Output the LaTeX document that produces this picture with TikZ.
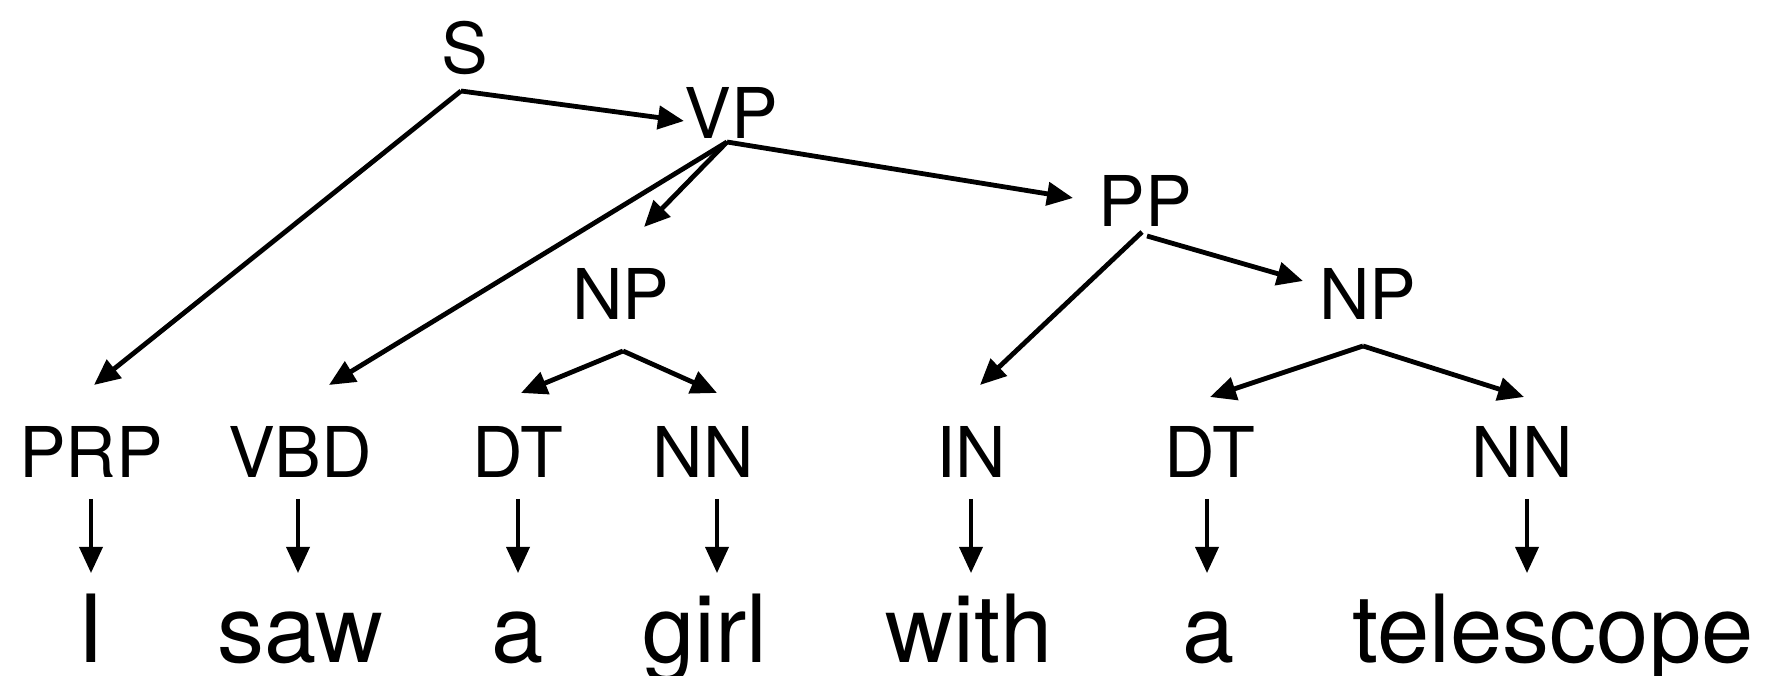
\documentclass[tikz,border=0pt]{standalone}
\usepackage{fontspec}
\setmainfont{TeX Gyre Heros}
\usetikzlibrary{arrows.meta}
\begin{document}
\begin{tikzpicture}[x=1pt,y=1pt,
  lab/.style={inner sep=0pt,anchor=base,font=\fontsize{70}{80}\selectfont},
  word/.style={inner sep=0pt,anchor=base,font=\fontsize{94}{100}\selectfont},
  edge/.style={line width=4.8pt,-{Triangle[length=26pt,width=23pt]}},
  lex/.style={line width=3.6pt,-{Triangle[length=26pt,width=23pt]}}]
\useasboundingbox (0,0) rectangle (1777,676);
% phrase labels
\node[lab] (S) at (465,602) {S};
\node[lab] (VP) at (731,537) {VP};
\node[lab] (PP) at (1145,449) {PP};
\node[lab] (NP1) at (621,356) {NP};
\node[lab] (NP2) at (1368,356) {NP};
% POS labels
\node[lab] (PRP) at (91,198) {PRP};
\node[lab] (VBD) at (300,198) {VBD};
\node[lab] (DT1) at (518,198) {DT};
\node[lab] (NN1) at (703,198) {NN};
\node[lab] (IN) at (971,198) {IN};
\node[lab] (DT2) at (1210,198) {DT};
\node[lab] (NN2) at (1522,198) {NN};
% words
\node[word] (w1) at (91,13) {I};
\node[word] (w2) at (300,13) {saw};
\node[word] (w3) at (518,13) {a};
\node[word] (w4) at (705,13) {girl};
\node[word] (w5) at (969,13) {with};
\node[word] (w6) at (1209,13) {a};
\node[word] (w7) at (1553,13) {telescope};
% anchor points
\coordinate (Sp) at (461,585);
\coordinate (VPp) at (727,534);
\coordinate (PPp) at (1142,444);
\coordinate (PPq) at (1147,440);
\coordinate (NP1p) at (623,325);
\coordinate (NP2p) at (1363,330);
% arrow tips
\coordinate (VPt) at (684,555);
\coordinate (PRPt) at (94,291);
\coordinate (VBDt) at (329,291);
\coordinate (NP1t) at (644,449);
\coordinate (PPt) at (1073,478);
\coordinate (INt) at (980,291);
\coordinate (NP2t) at (1303,395);
\coordinate (DT1t) at (521,283);
\coordinate (NN1t) at (717,283);
\coordinate (DT2t) at (1210,279);
\coordinate (NN2t) at (1524,279);
% tree edges
\draw[edge] (Sp) -- (VPt);
\draw[edge] (Sp) -- (PRPt);
\draw[edge] (VPp) -- (VBDt);
\draw[edge] (VPp) -- (NP1t);
\draw[edge] (VPp) -- (PPt);
\draw[edge] (PPp) -- (INt);
\draw[edge] (PPq) -- (NP2t);
\draw[edge] (NP1p) -- (DT1t);
\draw[edge] (NP1p) -- (NN1t);
\draw[edge] (NP2p) -- (DT2t);
\draw[edge] (NP2p) -- (NN2t);
% lexical arrows
\foreach \x/\n in {91/a,298/b,518/c,717/d,971/e,1207/f,1527/g}{
  \coordinate (l\n s) at (\x,177);
  \coordinate (l\n e) at (\x,103);
  \draw[lex] (l\n s) -- (l\n e);
}
\end{tikzpicture}
\end{document}
